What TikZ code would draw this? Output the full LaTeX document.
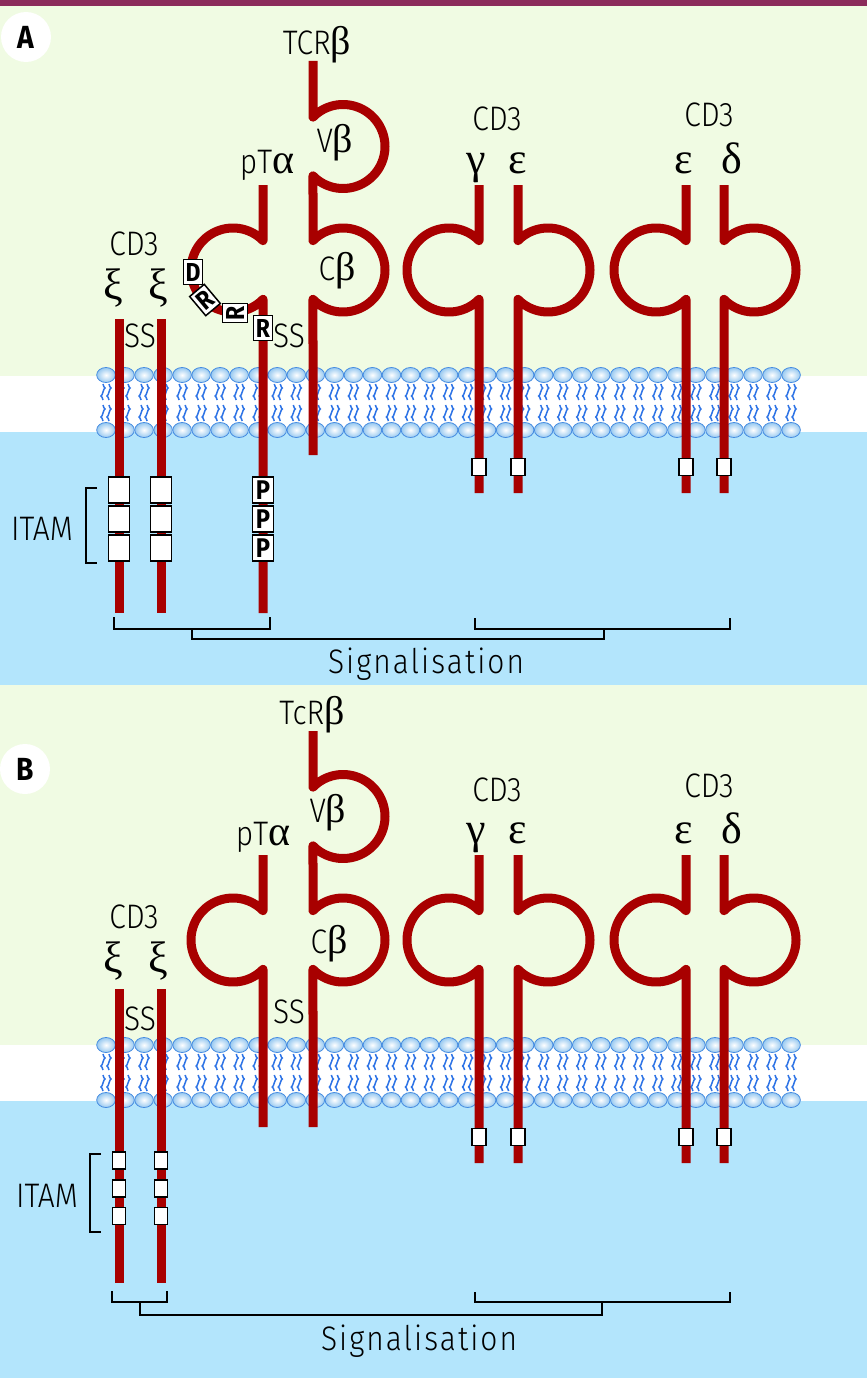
\documentclass[tikz,border=0pt]{standalone}
\usepackage{fontspec}
\setmainfont{Fira Sans}[UprightFont=* Light,BoldFont=* Bold,FakeStretch=0.88]
\newfontfamily\gk{Liberation Serif}
\definecolor{chainred}{RGB}{168,0,0}
\definecolor{bggreen}{RGB}{240,251,227}
\definecolor{bgblue}{RGB}{179,229,252}
\definecolor{barpurple}{RGB}{139,43,91}
\definecolor{headblue}{RGB}{150,200,240}
\definecolor{headline}{RGB}{70,140,225}
\definecolor{tailblue}{RGB}{45,115,230}
\newcommand\gb[1]{{\gk\fontsize{40}{44}\selectfont #1}}
\newcommand\gl[1]{{\gk\fontsize{44}{48}\selectfont #1}}
% chain with one loop on the left: x, top, loop centre y, bottom
\newcommand\chainL[4]{\draw[chain] (#1,#2) -- (#1,#3-29.4) -- plot[smooth,samples=45,domain=44.4:315.6] ({#1-30+42*cos(\x)},{#3-42*sin(\x)}) -- (#1,#4);}
% chain with one loop on the right
\newcommand\chainR[4]{\draw[chain] (#1,#2) -- (#1,#3-29.4) -- plot[smooth,samples=45,domain=-135.6:135.6] ({#1+30+42*cos(\x)},{#3+42*sin(\x)}) -- (#1,#4);}
% chain with two loops on the right: x, top, centre1, centre2, bottom
\newcommand\chainRR[5]{\draw[chain] (#1,#2) -- (#1,#3-29.4) -- plot[smooth,samples=45,domain=-135.6:135.6] ({#1+30+42*cos(\x)},{#3+42*sin(\x)}) -- (#1,#4-29.4) -- plot[smooth,samples=45,domain=-135.6:135.6] ({#1+30+42*cos(\x)},{#4+42*sin(\x)}) -- (#1,#5);}
\newcommand\membrane[1]{%
  \foreach \i in {0,...,36}{%
    \pgfmathsetmacro\hx{106+19.03*\i}%
    \foreach \dx in {-3,3}{%
      \draw[tail] (\hx+\dx,#1+9) sin ++(2,4) cos ++(-2,4) sin ++(-2,4) cos ++(2,4);
      \draw[tail] (\hx+\dx,#1+30) sin ++(2,4) cos ++(-2,4) sin ++(-2,4) cos ++(2,4);
    }%
    \shadedraw[head] (\hx,#1) ellipse[x radius=9.3,y radius=7.5];
    \shadedraw[head] (\hx,#1+55) ellipse[x radius=9.3,y radius=7.5];
  }}
\tikzset{
  chain/.style={draw=chainred,line width=9,line join=round},
  tail/.style={draw=tailblue,line width=1.5},
  head/.style={draw=headline,line width=0.8,inner color=white,outer color=headblue},
  lbl/.style={font=\fontsize{34}{40}\selectfont,inner sep=0},
  glbl/.style={inner sep=0},
  ibox/.style={draw=black,line width=1.5,fill=white,inner sep=0,minimum width=21,minimum height=26},
  sbox/.style={draw=black,line width=1.5,fill=white,inner sep=0,minimum width=14,minimum height=17},
  bbox/.style={draw=black,line width=1.5,fill=white,inner sep=0,minimum width=13,minimum height=17},
  lbox/.style={draw=black,line width=1.5,fill=white,inner sep=0,minimum width=19,minimum height=25,font=\bfseries\fontsize{26}{28}\selectfont},
  brk/.style={draw=black,line width=1.6},
  panel/.style={circle,fill=white,minimum size=50,inner sep=0,font=\bfseries\fontsize{32}{36}\selectfont}
}
\begin{document}
\begin{tikzpicture}[x=1pt,y=-1pt]
\useasboundingbox (0,0) rectangle (867,1378);
% backgrounds
\fill[barpurple] (0,0) rectangle (867,6);
\fill[bggreen] (0,6) rectangle (867,376);
\fill[white] (0,376) rectangle (867,432);
\fill[bgblue] (0,432) rectangle (867,685);
\fill[bggreen] (0,685) rectangle (867,1045);
\fill[white] (0,1045) rectangle (867,1101);
\fill[bgblue] (0,1101) rectangle (867,1378);
% membranes
\membrane{375}
\membrane{1045}
% ===== Panel A =====
\node[panel] (pa) at (26,37) {A};
\draw[chain] (119,319) -- (119,613);
\draw[chain] (161,319) -- (161,613);
\chainL{263}{185}{270}{613}
\chainRR{313}{61}{146.5}{270}{455}
\chainL{479}{185}{270}{493}
\chainR{518}{185}{270}{493}
\chainL{686}{185}{270}{493}
\chainR{724}{185}{270}{493}
% small boxes
\node[sbox] (ga) at (479,467) {};
\node[sbox] (ea) at (518,467) {};
\node[sbox] (eb) at (686,467) {};
\node[sbox] (da) at (724,467) {};
% ITAM boxes
\foreach \yy [count=\k] in {490,519,548}{
  \node[ibox] (xa\k) at (119,\yy) {};
  \node[ibox] (xb\k) at (161,\yy) {};
  \node[ibox,font=\bfseries\fontsize{27}{28}\selectfont] (p\k) at (263,\yy) {P};
}
% DRRR
\node[lbox] (d1) at (193,272) {D};
\node[lbox,rotate=40] (r1) at (205,300) {R};
\node[lbox,rotate=90] (r2) at (235,313) {R};
\node[lbox] (r3) at (263,328) {R};
% labels
\node[lbl,anchor=base] (tcr) at (317,55) {TCR\gb{β}};
\node[lbl,anchor=base] (vb) at (335,153) {V\gb{β}};
\node[lbl,anchor=base] (cb) at (337,280) {C\gb{β}};
\node[lbl,anchor=base] (pta) at (267,173) {pT{\gk\fontsize{42}{44}\selectfont α}};
\node[lbl,anchor=base] (cdxi) at (134,255) {CD3};
\node[glbl] (xi1) at (113,288) {\gl{ξ}};
\node[glbl] (xi2) at (158,288) {\gl{ξ}};
\node[lbl,anchor=base] (ss1) at (140,347) {SS};
\node[lbl,anchor=base] (ss2) at (289,347) {SS};
\node[lbl,anchor=base] (cdge) at (497,131) {CD3};
\node[glbl,anchor=base] (gam) at (476,173) {\gl{γ}};
\node[glbl,anchor=base] (eps1) at (518,173) {\gl{ε}};
\node[lbl,anchor=base] (cded) at (709,127) {CD3};
\node[glbl,anchor=base] (eps2) at (684,173) {\gl{ε}};
\node[glbl,anchor=base] (del) at (732,173) {\gl{δ}};
\node[lbl,anchor=base] (itamA) at (42,540) {ITAM};
\draw[brk] (97,488) -- (86,488) -- (86,563) -- (97,563);
\draw[brk] (114,617) -- (114,629) -- (270,629) -- (270,617);
\draw[brk] (475,618) -- (475,629) -- (730,629) -- (730,618);
\draw[brk] (192,629) -- (192,639) -- (604,639) -- (604,629);
\node[lbl,anchor=base] (sigA) at (426,673) {\addfontfeature{LetterSpace=6}Signalisation};
% ===== Panel B =====
\node[panel] (pb) at (25,769) {B};
\draw[chain] (119,989) -- (119,1283);
\draw[chain] (161,989) -- (161,1283);
\chainL{263}{855}{940}{1127}
\chainRR{313}{731}{816.5}{940}{1127}
\chainL{479}{855}{940}{1163}
\chainR{518}{855}{940}{1163}
\chainL{686}{855}{940}{1163}
\chainR{724}{855}{940}{1163}
\node[sbox] (gB) at (479,1137) {};
\node[sbox] (eB) at (518,1137) {};
\node[sbox] (e2B) at (686,1137) {};
\node[sbox] (dB) at (724,1137) {};
\foreach \yy [count=\k] in {1160.5,1188.5,1216}{
  \node[bbox] (ya\k) at (119,\yy) {};
  \node[bbox] (yb\k) at (161,\yy) {};
}
\node[lbl,anchor=base] (tcrB) at (312,724) {TcR\gb{β}};
\node[lbl,anchor=base] (vbB) at (328,822) {V\gb{β}};
\node[lbl,anchor=base] (cbB) at (329,953) {C\gb{β}};
\node[lbl,anchor=base] (ptaB) at (263,845) {pT{\gk\fontsize{42}{44}\selectfont α}};
\node[lbl,anchor=base] (cdxiB) at (134,928) {CD3};
\node[glbl] (xi1B) at (113,961) {\gl{ξ}};
\node[glbl] (xi2B) at (158,961) {\gl{ξ}};
\node[lbl,anchor=base] (ss1B) at (140,1030) {SS};
\node[lbl,anchor=base] (ss2B) at (289,1023) {SS};
\node[lbl,anchor=base] (cdgeB) at (497,801) {CD3};
\node[glbl,anchor=base] (gamB) at (476,843) {\gl{γ}};
\node[glbl,anchor=base] (eps1B) at (518,843) {\gl{ε}};
\node[lbl,anchor=base] (cdedB) at (709,797) {CD3};
\node[glbl,anchor=base] (eps2B) at (684,843) {\gl{ε}};
\node[glbl,anchor=base] (delB) at (732,843) {\gl{δ}};
\node[lbl,anchor=base] (itamB) at (47,1207) {ITAM};
\draw[brk] (101,1154) -- (90,1154) -- (90,1232) -- (101,1232);
\draw[brk] (112,1291) -- (112,1302) -- (167,1302) -- (167,1291);
\draw[brk] (475,1292) -- (475,1302) -- (730,1302) -- (730,1292);
\draw[brk] (140,1302) -- (140,1315) -- (602,1315) -- (602,1302);
\node[lbl,anchor=base] (sigB) at (419,1350) {\addfontfeature{LetterSpace=6}Signalisation};
\end{tikzpicture}
\end{document}
